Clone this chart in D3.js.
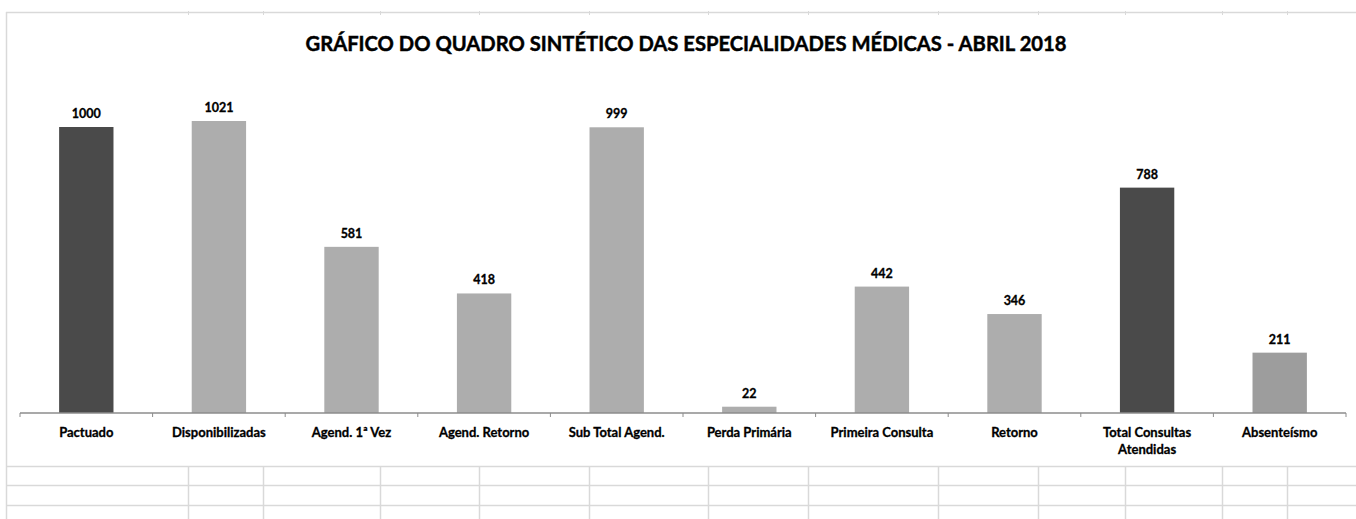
<!DOCTYPE html>
<html>
<head>
<meta charset="utf-8">
<script src="https://cdn.jsdelivr.net/npm/d3@7"></script>
<style>
  body { margin: 0; background: #fff; }
  svg { display: block; font-family: Lato, "Noto Sans", sans-serif; }
</style>
</head>
<body>
<svg id="chart" width="1356" height="519"></svg>
<script>
"use strict";

const chartTitle = "GRÁFICO DO QUADRO SINTÉTICO DAS ESPECIALIDADES MÉDICAS - ABRIL 2018";
const categories = ["Pactuado", "Disponibilizadas", "Agend. 1ª Vez", "Agend. Retorno", "Sub Total Agend.",
    "Perda Primária", "Primeira Consulta", "Retorno", "Total Consultas\nAtendidas", "Absenteísmo"];
const values = [1000, 1021, 581, 418, 999, 22, 442, 346, 788, 211];
const barColors = ["#4a4a4a", "#adadad", "#adadad", "#adadad", "#adadad",
    "#adadad", "#adadad", "#adadad", "#4a4a4a", "#9d9d9d"];
// spreadsheet cell borders showing around the chart object
const sheetCols = [188, 263, 380, 479, 589, 708, 808, 938, 1038, 1125, 1222, 1287];
const sheetRows = [466, 485, 505];

const svg = d3.select("#chart");
const W = 1356, H = 519;
const gridColor = "#d9d9d9";

// Spreadsheet grid behind/around the chart.
svg.append("line").attr("x1", 6).attr("x2", W).attr("y1", 12.5).attr("y2", 12.5)
    .style("stroke", gridColor).style("stroke-width", "1.5px");
svg.append("line").attr("x1", 6.5).attr("x2", 6.5).attr("y1", 12).attr("y2", H)
    .style("stroke", gridColor).style("stroke-width", "1.5px");
svg.selectAll(".sheet_row").data(sheetRows).enter().append("line")
    .attr("class", "sheet_row")
    .attr("x1", 6).attr("x2", W)
    .attr("y1", d => d + 0.5).attr("y2", d => d + 0.5)
    .style("stroke", gridColor).style("stroke-width", "1.5px");
svg.selectAll(".sheet_col").data(sheetCols).enter().append("line")
    .attr("class", "sheet_col")
    .attr("x1", d => d + 0.5).attr("x2", d => d + 0.5)
    .attr("y1", sheetRows[0]).attr("y2", H)
    .style("stroke", gridColor).style("stroke-width", "1.5px");
svg.selectAll(".sheet_col_top").data(sheetCols).enter().append("line")
    .attr("class", "sheet_col_top")
    .attr("x1", d => d + 0.5).attr("x2", d => d + 0.5)
    .attr("y1", 11).attr("y2", 15)
    .style("stroke", gridColor).style("stroke-width", "1px");

// Title, sized to span the same width as the original.
const title = svg.append("text")
    .attr("x", 686).attr("y", 51)
    .style("text-anchor", "middle")
    .style("font-weight", "bold")
    .style("font-size", "20px")
    .style("fill", "#000")
    .style("stroke", "#000").style("stroke-width", "0.45px")
    .text(chartTitle);
const tw = title.node().getComputedTextLength();
title.style("font-size", (20 * 762 / tw).toFixed(2) + "px");

// Plot area
const plot = {left: 20, right: 1346, base: 413};
const x = d3.scaleBand().domain(categories).range([plot.left, plot.right]).paddingInner(0.59).paddingOuter(0.295);
const y = d3.scaleLinear().domain([0, 1200]).range([plot.base, plot.base - 1200 * 0.286]);

svg.selectAll(".bar").data(values).enter().append("rect")
    .attr("class", "bar")
    .attr("x", (d, i) => x(categories[i]))
    .attr("width", x.bandwidth())
    .attr("y", d => y(d))
    .attr("height", d => y(0) - y(d))
    .style("fill", (d, i) => barColors[i]);

svg.selectAll(".bar_label").data(values).enter().append("text")
    .attr("class", "bar_label")
    .attr("x", (d, i) => x(categories[i]) + x.bandwidth() / 2)
    .attr("y", d => y(d) - 9)
    .style("text-anchor", "middle")
    .style("font-weight", "bold")
    .style("font-size", "12.5px")
    .style("fill", "#000")
    .style("stroke", "#000").style("stroke-width", "0.3px")
    .text(d => d);

// Category axis
const axis = d3.axisBottom(x).tickSize(0).tickPadding(0).tickFormat("");
const axisG = svg.append("g").attr("transform", `translate(0,${plot.base})`).call(axis);
axisG.select(".domain").attr("d", `M${plot.left},0H${plot.right}`)
    .style("stroke", "#8c8c8c").style("stroke-width", "1.5px");

const step = x.step();
const tickPos = d3.range(categories.length + 1).map(i => plot.left + i * step);
axisG.selectAll(".cat_tick").data(tickPos).enter().append("line")
    .attr("class", "cat_tick")
    .attr("x1", d => d).attr("x2", d => d)
    .attr("y1", 0).attr("y2", 4)
    .style("stroke", "#8c8c8c").style("stroke-width", "1px");

const catLabels = svg.selectAll(".cat_label").data(categories).enter().append("text")
    .attr("class", "cat_label")
    .attr("x", d => x(d) + x.bandwidth() / 2)
    .attr("y", plot.base + 24)
    .style("text-anchor", "middle")
    .style("font-weight", "bold")
    .style("font-size", "13px")
    .style("fill", "#000")
    .style("stroke", "#000").style("stroke-width", "0.3px");
catLabels.each(function(d) {
    const lines = d.split("\n");
    const t = d3.select(this);
    lines.forEach((l, i) => {
        t.append("tspan").attr("x", t.attr("x")).attr("dy", i ? 17 : 0).text(l);
    });
});
</script>
</body>
</html>
